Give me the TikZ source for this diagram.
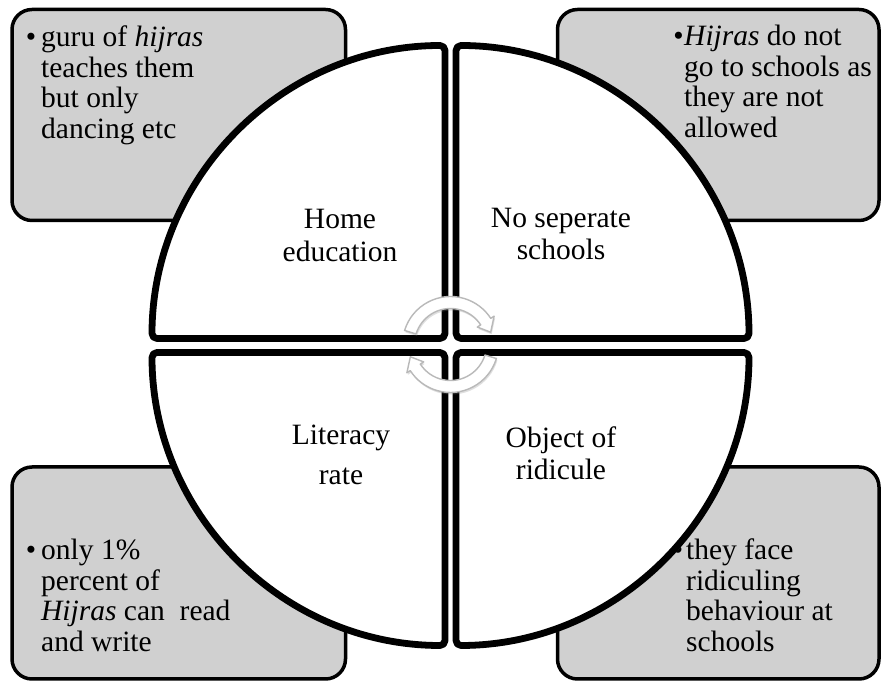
\documentclass[tikz,border=0pt]{standalone}
\usepackage{fontspec}
\setmainfont{Liberation Serif}
\usetikzlibrary{shadows}
\definecolor{boxgray}{RGB}{208,208,208}
\newcommand{\tblk}[2]{\begin{tabular}[t]{@{}#1@{}}#2\end{tabular}}
\begin{document}
\begin{tikzpicture}[x=1pt,y=1pt,
  sidebox/.style={draw=black, line width=3.5pt, fill=boxgray, rounded corners=20pt},
  quad/.style={draw=black, line width=6.8pt, fill=white, rounded corners=5pt, line join=round,
    drop shadow={shadow xshift=2pt, shadow yshift=-3pt, opacity=0.3}},
  boxtext/.style={anchor=base west, inner sep=0pt, font=\fontsize{29.5}{30.5}\selectfont},
  qtext/.style={anchor=base, inner sep=0pt},
  cyc/.style={fill=white, draw=gray!55, line width=1.4pt, line join=round,
    drop shadow={shadow xshift=1pt, shadow yshift=-2pt, opacity=0.25}}]
\useasboundingbox (0,0) rectangle (881,682);
% side boxes
\path[sidebox] (12,461.5) rectangle (345.5,672.5);
\path[sidebox] (557.5,461.5) rectangle (879,672.5);
\path[sidebox] (12,3) rectangle (345.5,215);
\path[sidebox] (557.5,3) rectangle (879,215);
% box texts
\node[boxtext] (t1) at (41,635) {\tblk{l}{\makebox[0pt][r]{•\hspace{5pt}}guru of \textit{hijras}\\teaches them\\but only\\dancing etc}};
\node[boxtext] (t2) at (684,636) {\tblk{l}{\makebox[0pt][r]{•\hspace{0.5pt}}\textit{Hijras} do not\\go to schools as\\they are not\\allowed}};
\node[boxtext] (t3) at (41,122) {\tblk{l}{\makebox[0pt][r]{•\hspace{5pt}}only 1\%\\percent of\\\textit{Hijras} can~ read\\and write}};
\node[boxtext] (t4) at (686,122) {\tblk{l}{\makebox[0pt][r]{•\hspace{3pt}}they face\\ridiculing\\behaviour at\\schools}};
% quadrants
\path[quad] (445,343.5) -- (152,343.5) arc[start angle=180, end angle=90, radius=293] -- cycle;
\path[quad] (456,343.5) -- (456,636.5) arc[start angle=90, end angle=0, radius=293] -- cycle;
\path[quad] (456,329.5) -- (749,329.5) arc[start angle=0, end angle=-90, radius=293] -- cycle;
\path[quad] (445,329.5) -- (445,36.5) arc[start angle=270, end angle=180, radius=293] -- cycle;
% quadrant labels
\node[qtext, font=\fontsize{29.5}{33}\selectfont] (home) at (340,453) {\tblk{c}{Home\\education}};
\node[qtext, font=\fontsize{29.5}{32}\selectfont] (nosep) at (561,454) {\tblk{c}{No seperate\\schools}};
\node[qtext, font=\fontsize{29.5}{40}\selectfont] (lit) at (341,237) {\tblk{c}{Literacy\\rate}};
\node[qtext, font=\fontsize{29.5}{32}\selectfont] (obj) at (561,234) {\tblk{c}{Object of\\ridicule}};
% circular arrows
\begin{scope}[shift={(450.5,337.5)}]
\path[cyc] (163:48) arc[start angle=163, end angle=33, radius=48] -- (33:52) -- (17:42) -- (33:32) -- (33:36) arc[start angle=33, end angle=163, radius=36] -- cycle;
\path[cyc] (-17:48) arc[start angle=-17, end angle=-147, radius=48] -- (-147:52) -- (-163:42) -- (-147:32) -- (-147:36) arc[start angle=-147, end angle=-17, radius=36] -- cycle;
\end{scope}
\end{tikzpicture}
\end{document}
